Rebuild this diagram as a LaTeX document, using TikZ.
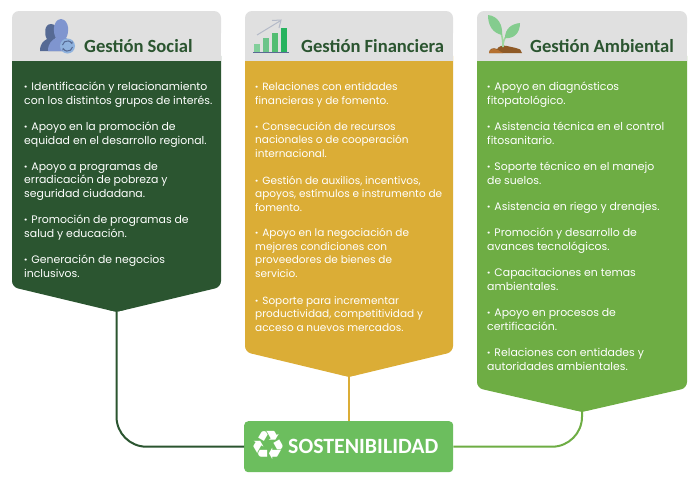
\documentclass[tikz,border=0pt]{standalone}
\usepackage{fontspec}
\usetikzlibrary{arrows.meta}
\setmainfont{Poppins}
\newfontfamily\headfont{Carlito}[BoldFont={Carlito Bold}]
\newfontfamily\symfont{DejaVu Sans}
\definecolor{hdr}{HTML}{E0E0E0}
\definecolor{cs}{HTML}{2B5530}
\definecolor{cf}{HTML}{DBAD36}
\definecolor{ca}{HTML}{6EAD44}
\definecolor{cb}{HTML}{6CBE5E}
\definecolor{ttl}{HTML}{2B5530}
\definecolor{pa}{HTML}{566A94}
\definecolor{pb}{HTML}{7F95CF}
\definecolor{pc}{HTML}{8FB2DE}
\definecolor{ba}{HTML}{82CF9A}
\definecolor{bb}{HTML}{6CC48A}
\definecolor{bc}{HTML}{52BD72}
\definecolor{bd}{HTML}{27B35F}
\definecolor{be}{HTML}{5A6A94}
\definecolor{bf}{HTML}{B4BAC8}
\definecolor{sa}{HTML}{8F5A26}
\definecolor{sb}{HTML}{B5702F}
\definecolor{sc}{HTML}{9FD79E}
\definecolor{sd}{HTML}{84CC8E}
\newcommand{\bul}{\textbf{·}\hspace{4pt}}
\tikzset{
 bodytxt/.style={anchor=base west,inner sep=0pt,align=left,text=white,font=\fontsize{10.9}{13.4}\selectfont},
 fintxt/.style={bodytxt,font=\fontsize{10.5}{13.4}\selectfont},
 ttltxt/.style={anchor=base west,inner sep=0pt,text=ttl,font=\headfont\bfseries\fontsize{18.6}{20}\selectfont},
 conn/.style={line width=2pt,rounded corners=30pt}
}
\newcommand{\colpanel}[6]{% x0 x1 sideY tipY color name
 \pgfmathsetmacro{\xm}{(#1+#2)/2}
 \fill[hdr,rounded corners=7pt] (#1,11) rectangle (#2,40);
 \fill[hdr] (#1,25) rectangle (#2,61);
 \fill[#5,rounded corners=6pt] (#1,50) -- (#1,#3) -- (\xm,#4) -- (#2,#3) -- (#2,50) -- cycle;
 \fill[#5] (#1,61) rectangle (#2,80);
 \fill[hdr] (#1,50) rectangle (#2,61);
 \fill[#5] (\xm-8,#4-2.2) -- (\xm,#4) -- (\xm+8,#4-2.2) -- cycle;
 \coordinate (#6) at (\xm,#4);
}
\begin{document}
\begin{tikzpicture}[x=1pt,y=-1pt]
\useasboundingbox (0,0) rectangle (700,480);
\fill[white] (0,0) rectangle (700,480);
\colpanel{12}{221}{287}{312}{cs}{tipS}
\colpanel{245}{453}{352}{377}{cf}{tipF}
\colpanel{477}{687}{388}{412}{ca}{tipA}
\node[fill=cb,rounded corners=4pt,minimum width=209pt,minimum height=51pt,inner sep=0pt,anchor=north west] (sost) at (244,421) {};
\draw[conn,cs] (tipS) |- (sost.west);
\draw[line width=2pt,cf] (tipF) -- (sost.north -| tipF);
\draw[conn,ca] (tipA) |- (sost.east);
% titles
\node[ttltxt] (t1) at (84,52) {Gestión Social};
\node[ttltxt] (t2) at (301,52) {Gestión Financiera};
\node[ttltxt] (t3) at (530,52) {Gestión Ambiental};
% social text
\node[bodytxt] (s1) at (24,104) {\bul Identificación y relacionamiento\\con los distintos grupos de interés.};
\node[bodytxt] (s2) at (24,144) {\bul Apoyo en la promoción de\\equidad en el desarrollo regional.};
\node[bodytxt] (s3) at (24,197) {\bul Apoyo a programas de\\erradicación de pobreza y\\seguridad ciudadana.};
\node[bodytxt] (s4) at (24,237) {\bul Promoción de programas de\\salud y educación.};
\node[bodytxt] (s5) at (24,277) {\bul Generación de negocios\\inclusivos.};
% fin text
\node[fintxt] (f1) at (255,104) {\bul Relaciones con entidades\\financieras y de fomento.};
\node[fintxt] (f2) at (255,157) {\bul Consecución de recursos\\nacionales o de cooperación\\internacional.};
\node[fintxt] (f3) at (255,211) {\bul Gestión de auxilios, incentivos,\\apoyos, estímulos e instrumento de\\fomento.};
\node[fintxt] (f4) at (255,277) {\bul Apoyo en la negociación de\\mejores condiciones con\\proveedores de bienes de\\servicio.};
\node[fintxt] (f5) at (255,331) {\bul Soporte para incrementar\\productividad, competitividad y\\acceso a nuevos mercados.};
% amb text
\node[bodytxt] (a1) at (487,104) {\bul Apoyo en diagnósticos\\fitopatológico.};
\node[bodytxt] (a2) at (487,144) {\bul Asistencia técnica en el control\\fitosanitario.};
\node[bodytxt] (a3) at (487,184) {\bul Soporte técnico en el manejo\\de suelos.};
\node[bodytxt] (a4) at (487,210) {\bul Asistencia en riego y drenajes.};
\node[bodytxt] (a5) at (487,250) {\bul Promoción y desarrollo de\\avances tecnológicos.};
\node[bodytxt] (a6) at (487,290) {\bul Capacitaciones en temas\\ambientales.};
\node[bodytxt] (a7) at (487,330) {\bul Apoyo en procesos de\\certificación.};
\node[bodytxt] (a8) at (487,370) {\bul Relaciones con entidades y\\autoridades ambientales.};
% sost
\node[anchor=base west,inner sep=0pt,text=white,font=\headfont\bfseries\fontsize{21.8}{24}\selectfont] (stxt) at (288,453) {SOSTENIBILIDAD};
\node[anchor=center,inner sep=0pt,text=white,font=\symfont\fontsize{40}{40}\selectfont] (rec) at (268,445.5) {♻};
% people icon
\fill[pa] (40,51) .. controls (40,43) and (44,41) .. (47,39) .. controls (44,35) and (44,24) .. (51,24) .. controls (58,24) and (58,35) .. (55,39) .. controls (58,41) and (62,44) .. (62,51) -- cycle;
\fill[pb] (48,51) .. controls (48,43) and (52,40) .. (56,38) .. controls (53,34) and (52,20) .. (61,19) .. controls (70,20) and (69,34) .. (66,38) .. controls (69,40) and (72,42) .. (72,51) -- cycle;
\fill[pc] (67.5,46) circle (7.5);
\draw[pa,line width=1pt,-{Stealth[length=2.5pt,width=3pt]}] (62.5,45) arc[start angle=190,end angle=340,radius=5];
\draw[pa,line width=1pt,-{Stealth[length=2.5pt,width=3pt]}] (72.5,47) arc[start angle=10,end angle=160,radius=5];
% chart icon
\fill[ba] (254,44) rectangle (260,52);
\fill[bb] (263,38) rectangle (269,52);
\fill[bc] (272,33) rectangle (278,52);
\fill[bd] (281,28) rectangle (287,52);
\fill[be] (253,52) rectangle (289,53);
\draw[bf,line width=1pt] (257,35) -- (280,21);
\draw[bf,line width=1pt] (272,20.5) -- (281,20) -- (279,28);
% sprout icon
\fill[sa] (489,53) .. controls (489,49) and (493,47) .. (497,49) .. controls (499,46) and (503,45) .. (507,46) .. controls (510,46) and (513,48) .. (516,48) .. controls (519,48) and (522,50) .. (522,53) -- cycle;
\fill[sb] (489,53) .. controls (489,49) and (494,48) .. (498,50) .. controls (501,52) and (503,53) .. (503,53) -- cycle;
\draw[sc,line width=1.6pt] (503,47) .. controls (503,38) and (501,28) .. (494,20);
\draw[sc,line width=1.6pt] (503,47) .. controls (503,42) and (504,38) .. (507,36);
\fill[sd] (488,15) .. controls (498,16) and (503,25) .. (502,35) .. controls (493,33) and (488,26) .. (488,15) -- cycle;
\fill[sd] (520,23) .. controls (520,33) and (514,39) .. (505,38) .. controls (505,29) and (511,24) .. (520,23) -- cycle;
\end{tikzpicture}
\end{document}
